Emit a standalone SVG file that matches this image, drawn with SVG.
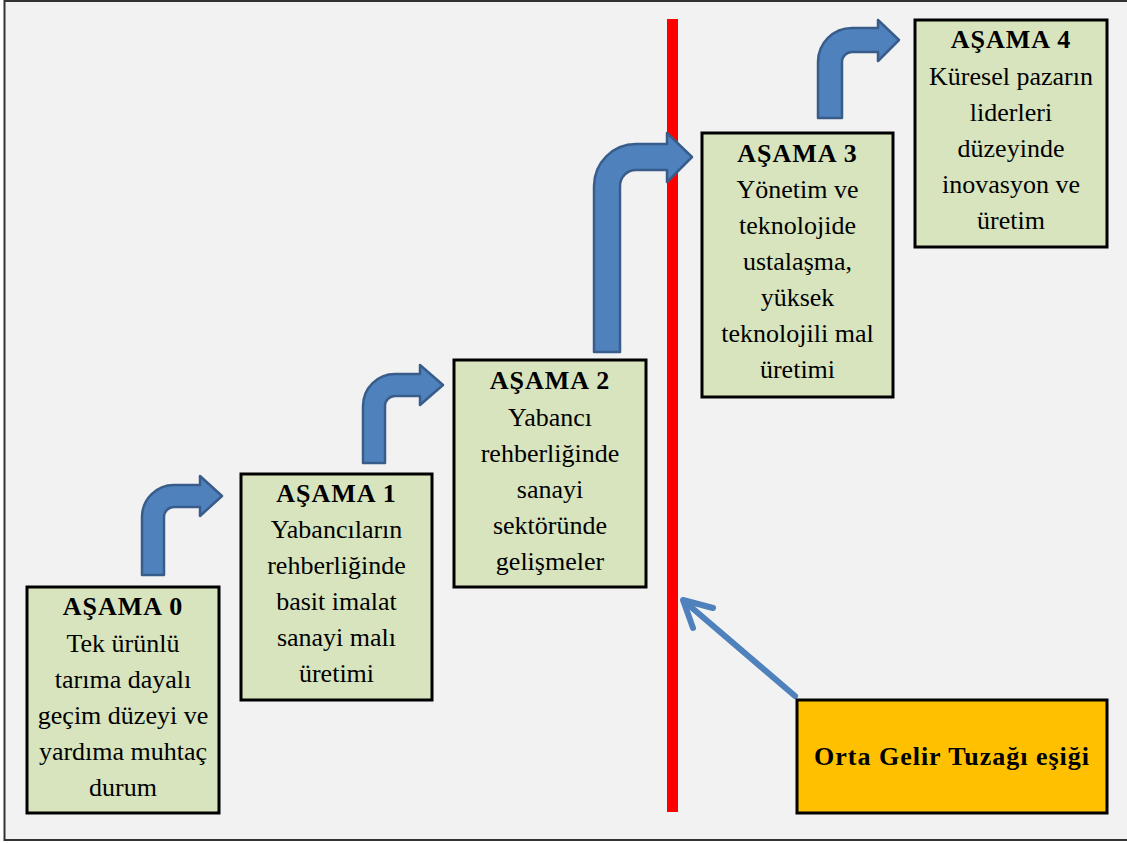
<svg xmlns="http://www.w3.org/2000/svg" width="1127" height="843" viewBox="0 0 1127 843">
  <style>
    .stage { fill: #d7e4bd; stroke: #000000; stroke-width: 3; }
    .trap { fill: #ffc000; stroke: #000000; stroke-width: 3; }
    text { font-family: 'Times New Roman', 'Liberation Serif', Tinos, 'Noto Serif', 'DejaVu Serif', serif; font-size: 26px; font-weight: 400; text-anchor: middle; fill: #000000; }
    .head { font-weight: 700; letter-spacing: 1px; }
    .step { fill: #4f81bd; stroke: #385d8a; stroke-width: 2.5; stroke-linejoin: round; }
    .pointer { fill: none; stroke: #4f81bd; stroke-width: 6; stroke-linecap: round; stroke-linejoin: round; }
  </style>

  <!-- page background and frame -->
  <rect x="0" y="0" width="1127" height="843" fill="#ffffff"/>
  <rect x="4.5" y="1" width="1130" height="839" fill="#f2f2f2" stroke="#333333" stroke-width="2"/>

  <!-- threshold line -->
  <g id="threshold-line">
    <rect x="667" y="19" width="11" height="793" fill="#ff0000"/>
  </g>

  <!-- connectors: bent step arrows and the pointer to the threshold -->
  <g id="connectors">
    <path class="step" d="M142,575 L142,517 A32,32 0 0 1 174,485 L200,485 L200,476 L222,496 L200,516 L200,507 L174,507 A10,10 0 0 0 164,517 L164,575 Z"/>
    <path class="step" d="M363,463 L363,406 A32,32 0 0 1 395,374 L420,374 L420,365 L443,385 L420,405 L420,396 L395,396 A10,10 0 0 0 385,406 L385,463 Z"/>
    <path class="step" d="M594,352 L594,186 A42,42 0 0 1 636,144 L667,144 L667,133 L692,157 L667,182 L667,170 L636,170 A16,16 0 0 0 620,186 L620,352 Z"/>
    <path class="step" d="M818,118 L818,62 A34,34 0 0 1 852,28 L878,28 L878,20 L899,40 L878,61 L878,52 L852,52 A10,10 0 0 0 842,62 L842,118 Z"/>
    <g id="trap-pointer">
      <line class="pointer" x1="795" y1="696" x2="684" y2="601"/>
      <polyline class="pointer" points="713,608 683,600 693,628"/>
    </g>
  </g>

  <g id="stage-0">
    <rect class="stage" x="27" y="587" width="192" height="226"/>
    <text class="head" x="123" y="615">AŞAMA 0</text>
    <text x="123" y="652">Tek ürünlü</text>
    <text x="123" y="688">tarıma dayalı</text>
    <text x="123" y="724">geçim düzeyi ve</text>
    <text x="123" y="760">yardıma muhtaç</text>
    <text x="123" y="796">durum</text>
  </g>

  <g id="stage-1">
    <rect class="stage" x="241" y="474" width="191" height="226"/>
    <text class="head" x="336.5" y="502">AŞAMA 1</text>
    <text x="336.5" y="538">Yabancıların</text>
    <text x="336.5" y="574">rehberliğinde</text>
    <text x="336.5" y="610">basit imalat</text>
    <text x="336.5" y="646">sanayi malı</text>
    <text x="336.5" y="682">üretimi</text>
  </g>

  <g id="stage-2">
    <rect class="stage" x="454" y="360" width="192" height="227"/>
    <text class="head" x="550" y="389">AŞAMA 2</text>
    <text x="550" y="426">Yabancı</text>
    <text x="550" y="462">rehberliğinde</text>
    <text x="550" y="498">sanayi</text>
    <text x="550" y="534">sektöründe</text>
    <text x="550" y="570">gelişmeler</text>
  </g>

  <g id="stage-3">
    <rect class="stage" x="702" y="133" width="191" height="264"/>
    <text class="head" x="797.5" y="162">AŞAMA 3</text>
    <text x="797.5" y="198">Yönetim ve</text>
    <text x="797.5" y="234">teknolojide</text>
    <text x="797.5" y="270">ustalaşma,</text>
    <text x="797.5" y="306">yüksek</text>
    <text x="797.5" y="342">teknolojili mal</text>
    <text x="797.5" y="378">üretimi</text>
  </g>

  <g id="stage-4">
    <rect class="stage" x="915" y="20" width="192" height="227"/>
    <text class="head" x="1011" y="48">AŞAMA 4</text>
    <text x="1011" y="85">Küresel pazarın</text>
    <text x="1011" y="121">liderleri</text>
    <text x="1011" y="157">düzeyinde</text>
    <text x="1011" y="193">inovasyon ve</text>
    <text x="1011" y="229">üretim</text>
  </g>

  <g id="middle-income-trap">
    <rect class="trap" x="797" y="700" width="310" height="113"/>
    <text class="head" x="952" y="765">Orta Gelir Tuzağı eşiği</text>
  </g>
</svg>
